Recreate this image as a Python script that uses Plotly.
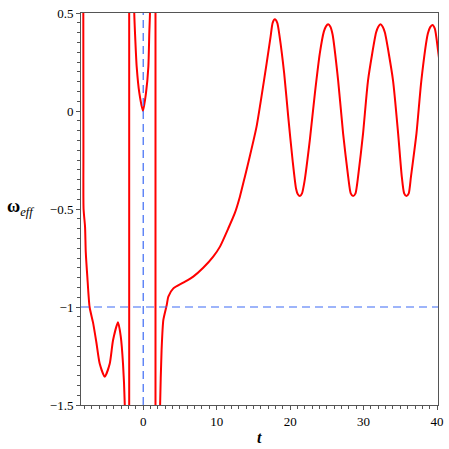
import plotly.graph_objects as go

# left branch (before first pole)
t_left = [-8.16, -8.14, -8.12, -7.92, -7.82, -7.60, -7.30, -6.83, -6.38, -5.92,
          -5.24, -4.56, -4.11, -3.43, -3.06, -2.75, -2.52, -2.40]
w_left = [0.70, -0.20, -0.50, -0.59, -0.72, -0.85, -1.00, -1.08, -1.18, -1.29,
          -1.356, -1.29, -1.17, -1.078, -1.15, -1.29, -1.49, -2.00]

# poles (jump lines drawn by the plotter)
t_pole1 = [-1.91, -1.91]
w_pole1 = [-2.0, 2.0]
t_pole2 = [1.67, 1.67]
w_pole2 = [2.0, -2.0]

# middle branch (U between poles)
t_mid = [-1.26, -1.22, -1.12, -0.89, -0.53, -0.03, 0.38, 0.70, 0.83, 0.92, 0.95]
w_mid = [0.70, 0.50, 0.40, 0.226, 0.092, 0.0, 0.092, 0.226, 0.40, 0.50, 0.70]

# right branch (oscillating)
t_right = [2.25, 2.30, 2.50, 2.74, 3.20, 3.42, 4.10, 5.45, 6.81, 8.17,
           9.53, 10.45, 11.57, 12.48, 13.16, 13.84, 14.52, 15.43, 16.10, 16.80,
           17.34, 17.62, 17.92, 18.25, 18.55, 19.19, 19.74, 20.33, 20.80, 21.05,
           21.33, 21.62, 21.95, 22.68, 23.37, 24.04, 24.59, 24.88, 25.18, 25.48,
           25.78, 26.53, 27.21, 27.90, 28.25, 28.57, 28.90, 29.25, 29.93, 30.61,
           31.70, 32.00, 32.30, 32.60, 32.90, 34.00, 34.70, 35.20, 35.52, 35.83,
           36.15, 36.45, 37.20, 37.87, 38.75, 39.07, 39.37, 39.70, 40.13, 40.60]
w_right = [-1.80, -1.50, -1.22, -1.066, -0.99, -0.947, -0.905, -0.876, -0.845, -0.80,
           -0.743, -0.692, -0.60, -0.52, -0.437, -0.335, -0.23, -0.08, 0.073, 0.243,
           0.379, 0.45, 0.468, 0.45, 0.385, 0.192, -0.029, -0.25, -0.395, -0.425,
           -0.434, -0.42, -0.36, -0.148, 0.09, 0.294, 0.405, 0.432, 0.442, 0.43,
           0.39, 0.158, -0.114, -0.335, -0.42, -0.434, -0.42, -0.335, -0.114, 0.158,
           0.40, 0.43, 0.442, 0.43, 0.40, 0.158, -0.114, -0.335, -0.42, -0.434,
           -0.42, -0.335, -0.114, 0.158, 0.395, 0.428, 0.439, 0.42, 0.311, 0.167]

x_range = [-8.47, 40.13]
y_range = [-1.5, 0.5]

# join branches with gaps so each piece is smoothed on its own
xs, ys = [], []
for tt, ww in [(t_left, w_left), (t_pole1, w_pole1), (t_mid, w_mid),
               (t_pole2, w_pole2), (t_right, w_right)]:
    xs += tt + [None]
    ys += ww + [None]

fig = go.Figure()

# reference lines
ref_line = dict(color="#3d6bf5", width=1.2, dash="8px,5px")
fig.add_hline(y=-1, line=ref_line)
fig.add_vline(x=0, line=ref_line)

fig.add_trace(go.Scatter(
    x=xs, y=ys, mode="lines",
    line=dict(color="#ff0000", width=2, shape="spline", smoothing=0.6),
    connectgaps=False, hoverinfo="skip",
))

serif = "Liberation Serif, Times New Roman, serif"
axis_font = dict(family=serif, size=13, color="black")

fig.update_xaxes(
    range=x_range, showgrid=False, zeroline=False, automargin=False,
    showline=True, linecolor="#555", linewidth=1, mirror=True,
    ticks="outside", ticklen=4, tickcolor="#555", dtick=10, tick0=0,
    minor=dict(ticks="outside", ticklen=3, dtick=1, tickcolor="#555"),
    tickfont=axis_font,
)
fig.update_yaxes(
    range=y_range, showgrid=False, zeroline=False, automargin=False,
    showline=True, linecolor="#555", linewidth=1, mirror=True,
    ticks="outside", ticklen=4, tickcolor="#555", dtick=0.5, tick0=0,
    minor=dict(ticks="outside", ticklen=3, dtick=0.05, tickcolor="#555"),
    tickfont=axis_font,
)

# axis titles as annotations (Maple-like placement)
fig.add_annotation(
    text="<b>ω</b><sub><i>eff</i></sub>", xref="paper", yref="y",
    x=-0.17, y=-0.49, showarrow=False, xanchor="center", yanchor="middle",
    font=dict(family=serif, size=18, color="black"),
)
fig.add_annotation(
    text="<b><i>t</i></b>", xref="paper", yref="paper",
    x=0.5, y=-0.082, showarrow=False, xanchor="center", yanchor="middle",
    font=dict(family=serif, size=16, color="black"),
)

fig.update_layout(
    width=449, height=449,
    margin=dict(l=81, r=11, t=13, b=44),
    plot_bgcolor="white", paper_bgcolor="white",
    font=dict(family=serif, size=13, color="black"),
    showlegend=False,
)

# drop the default page margin so the chart sits at the window corner
fig.write_html("out.html", config={"displayModeBar": False},
               post_script="document.body.style.margin='0';")
